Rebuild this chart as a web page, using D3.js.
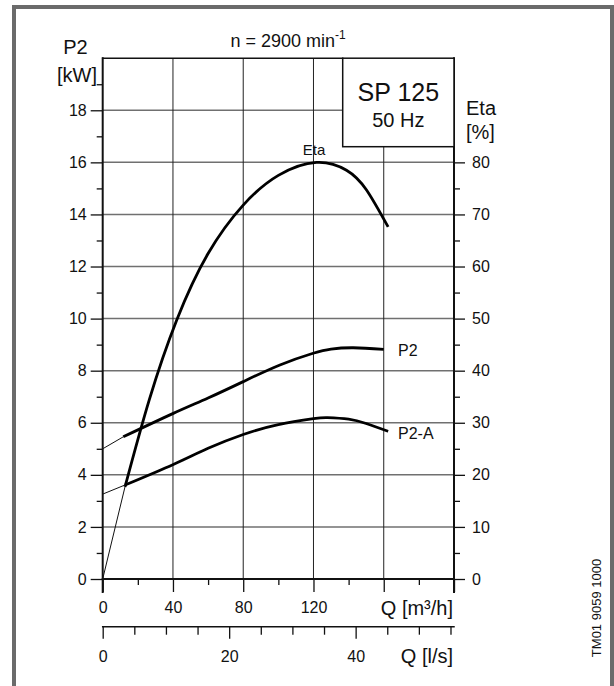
<!DOCTYPE html>
<html>
<head>
<meta charset="utf-8">
<title>SP 125 - 50 Hz</title>
<script src="https://cdn.jsdelivr.net/npm/d3@7/dist/d3.min.js"></script>
<style>
  body { margin: 0; background: #fff; }
  svg text { font-family: "Liberation Sans", Arial, sans-serif; fill: #111; }
</style>
</head>
<body>
<div id="chart"></div>
<script>
// flow in m3/h, power in kW, efficiency in %
const etaFlow   = [12.7, 26.5, 42.1, 60, 80, 100, 121.7, 138.8, 150.2, 162.5];
const etaValues = [17.7, 34.4, 49.7, 62.5, 71.8, 77.5, 80.0, 78.5, 74.7, 67.6];
const etaLeadFlow = [0, 12.7];
const etaLeadValues = [0, 17.7];

const p2Flow   = [11.7, 40.2, 60, 80, 100.9, 119.8, 130, 142.6, 160];
const p2Values = [5.46, 6.36, 6.95, 7.58, 8.22, 8.67, 8.83, 8.88, 8.82];
const p2LeadFlow = [0, 11.7];
const p2LeadValues = [5.0, 5.46];

const p2aFlow   = [12.7, 40.2, 60, 80, 100, 120, 128, 140, 150, 162.5];
const p2aValues = [3.61, 4.4, 5.02, 5.55, 5.93, 6.16, 6.2, 6.14, 5.97, 5.67];
const p2aLeadFlow = [0, 12.7];
const p2aLeadValues = [3.26, 3.61];

// axis ticks
const powerTicks = [0, 2, 4, 6, 8, 10, 12, 14, 16, 18];
const powerMinor = [1, 3, 5, 7, 9, 11, 13, 15, 17, 19];
const etaTicks = [0, 10, 20, 30, 40, 50, 60, 70, 80];
const etaMinor = [5, 15, 25, 35, 45, 55, 65, 75];
const flowTicks = [0, 40, 80, 120, 160, 200];
const flowLabels = [0, 40, 80, 120];
const flowMinor = [20, 60, 100, 140, 180];
const litreTicks = [0, 20, 40];
const litreMinor = [5, 10, 15, 25, 30, 35, 45, 50, 55];

const chart = (function () {

    let svg,
        width = 614,
        height = 686,
        x0 = 102.7, x1 = 454,
        y0 = 579, y1 = 58.2,
        boxLeft = 342.7, boxBottom = 146.7,
        litreAxisY = 626.7;

    const x = d3.scaleLinear().domain([0, 200]).range([x0, x1]),
          xLitre = d3.scaleLinear().domain([0, 200 / 3.6]).range([x0, x1]),
          yPower = d3.scaleLinear().domain([0, 20]).range([y0, y1]),
          yEta = d3.scaleLinear().domain([0, 100]).range([y0, y1]);

    return { init };

    function init() {
        svg = d3.select('#chart').append('svg')
            .attr('width', width)
            .attr('height', height);

        // gray frame, bottom edge falls outside the picture
        svg.append('rect')
            .attr('x', 14).attr('y', 7)
            .attr('width', 598).attr('height', 720)
            .attr('fill', 'none')
            .attr('stroke', '#6b6b6b')
            .attr('stroke-width', 4);

        drawGrid();
        drawAxes();
        drawBox();
        drawCurves();
        drawLabels();
    }

    function drawGrid() {
        const grid = svg.append('g');

        grid.selectAll('.hgrid')
            .data(powerTicks.filter(d => d > 0))
            .join('line')
            .attr('x1', x0)
            .attr('x2', d => yPower(d) < boxBottom ? boxLeft : x1)
            .attr('y1', d => yPower(d))
            .attr('y2', d => yPower(d))
            .attr('stroke', '#707070')
            .attr('stroke-width', 1.5);

        grid.selectAll('.vgrid')
            .data(flowTicks.filter(d => d > 0 && d < 200))
            .join('line')
            .attr('x1', d => x(d))
            .attr('x2', d => x(d))
            .attr('y1', y0)
            .attr('y2', d => x(d) > boxLeft ? boxBottom : y1)
            .attr('stroke', '#222')
            .attr('stroke-width', 1);
    }

    function axisStyle(g, size) {
        g.select('.domain').remove();
        g.selectAll('line').attr('stroke', '#111').attr('stroke-width', 1.3);
        g.selectAll('text').attr('font-size', size).attr('fill', '#111')
            .attr('font-family', '"Liberation Sans", Arial, sans-serif');
    }

    function drawAxes() {
        // left kW axis
        svg.append('g').attr('transform', `translate(${x0},0)`)
            .call(d3.axisLeft(yPower).tickValues(powerTicks).tickSize(12).tickPadding(4))
            .call(g => axisStyle(g, 16));
        svg.append('g').attr('transform', `translate(${x0},0)`)
            .call(d3.axisLeft(yPower).tickValues(powerMinor).tickSize(6).tickFormat(''))
            .call(g => axisStyle(g, 16));

        // right Eta axis
        svg.append('g').attr('transform', `translate(${x1},0)`)
            .call(d3.axisRight(yEta).tickValues(etaTicks).tickSize(11).tickPadding(7))
            .call(g => axisStyle(g, 16));
        svg.append('g').attr('transform', `translate(${x1},0)`)
            .call(d3.axisRight(yEta).tickValues(etaMinor).tickSize(6).tickFormat(''))
            .call(g => axisStyle(g, 16));

        // bottom m3/h axis, the last two ticks carry no number
        svg.append('g').attr('transform', `translate(0,${y0})`)
            .call(d3.axisBottom(x).tickValues(flowTicks).tickSize(13).tickPadding(10)
                .tickFormat(d => flowLabels.includes(d) ? d : ''))
            .call(g => axisStyle(g, 16));
        svg.append('g').attr('transform', `translate(0,${y0})`)
            .call(d3.axisBottom(x).tickValues(flowMinor).tickSize(6).tickFormat(''))
            .call(g => axisStyle(g, 16));

        // second flow axis in l/s
        svg.append('g').attr('transform', `translate(0,${litreAxisY})`)
            .call(d3.axisBottom(xLitre).tickValues(litreTicks).tickSize(12).tickPadding(12))
            .call(g => axisStyle(g, 16));
        svg.append('g').attr('transform', `translate(0,${litreAxisY})`)
            .call(d3.axisBottom(xLitre).tickValues(litreMinor).tickSize(8).tickFormat(''))
            .call(g => axisStyle(g, 16));

        // axis lines drawn by hand for the heavier weight
        const lines = [
            [x0, y1, x0, y0 + 13, 2],
            [x1, y1, x1, y0 + 13, 2],
            [x0, y0, x1, y0, 2],
            [x0, y1, boxLeft, y1, 1.5],
            [x0, litreAxisY, x1, litreAxisY, 1.5]
        ];
        svg.append('g').selectAll('line')
            .data(lines)
            .join('line')
            .attr('x1', d => d[0]).attr('y1', d => d[1])
            .attr('x2', d => d[2]).attr('y2', d => d[3])
            .attr('stroke', '#111')
            .attr('stroke-width', d => d[4])
            .attr('stroke-linecap', 'square');
    }

    function drawBox() {
        svg.append('rect')
            .attr('x', boxLeft).attr('y', y1)
            .attr('width', x1 - boxLeft).attr('height', boxBottom - y1)
            .attr('fill', '#fff')
            .attr('stroke', '#111')
            .attr('stroke-width', 1.5);

        const cx = (boxLeft + x1) / 2;
        svg.append('text').attr('x', cx).attr('y', 101)
            .attr('text-anchor', 'middle').attr('font-size', 25).text('SP 125');
        svg.append('text').attr('x', cx).attr('y', 127)
            .attr('text-anchor', 'middle').attr('font-size', 20).text('50 Hz');
    }

    function drawCurves() {
        const line = (ys) => d3.line()
            .x(d => x(d[0]))
            .y(d => ys(d[1]))
            .curve(d3.curveNatural);

        const curves = [
            { flow: etaFlow, vals: etaValues, lf: etaLeadFlow, lv: etaLeadValues, ys: yEta },
            { flow: p2Flow, vals: p2Values, lf: p2LeadFlow, lv: p2LeadValues, ys: yPower },
            { flow: p2aFlow, vals: p2aValues, lf: p2aLeadFlow, lv: p2aLeadValues, ys: yPower }
        ];

        curves.forEach(c => {
            //thin extrapolated part down to Q = 0
            svg.append('path')
                .datum(d3.zip(c.lf, c.lv))
                .attr('d', line(c.ys))
                .attr('fill', 'none')
                .attr('stroke', '#111')
                .attr('stroke-width', 1);

            svg.append('path')
                .datum(d3.zip(c.flow, c.vals))
                .attr('d', line(c.ys))
                .attr('fill', 'none')
                .attr('stroke', '#000')
                .attr('stroke-width', 2.8)
                .attr('stroke-linecap', 'butt');
        });
    }

    function drawLabels() {
        const t = (xp, yp, str, size, anchor) => svg.append('text')
            .attr('x', xp).attr('y', yp)
            .attr('font-size', size)
            .attr('text-anchor', anchor || 'start')
            .text(str);

        // axis titles
        t(75.5, 54, 'P2', 20, 'middle');
        t(97, 82, '[kW]', 20, 'end');
        t(466, 115, 'Eta', 20);
        t(466, 139, '[%]', 20);
        t(453, 615, 'Q [m³/h]', 20, 'end');
        t(453, 663, 'Q [l/s]', 20, 'end');

        // speed heading with superscript
        const head = t(288, 47, 'n = 2900 min', 18, 'middle');
        head.append('tspan').attr('dy', -8).attr('font-size', 12).text('-1');

        // curve names
        t(314, 155, 'Eta', 15, 'middle');
        t(398, 356, 'P2', 16);
        t(398, 439, 'P2-A', 16);

        // drawing number, vertical
        svg.append('text')
            .attr('transform', 'translate(601,608) rotate(-90)')
            .attr('text-anchor', 'middle')
            .attr('font-size', 13)
            .text('TM01 9059 1000');
    }

}());

chart.init();
</script>
</body>
</html>
